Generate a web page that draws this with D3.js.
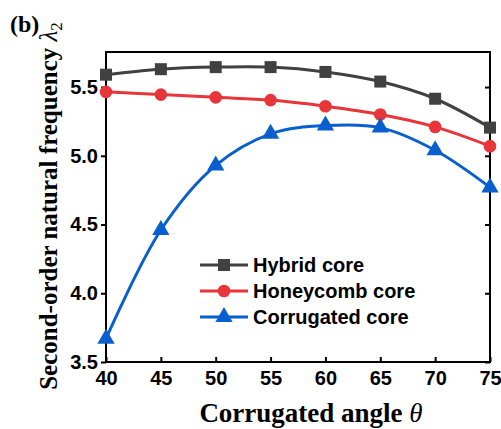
<!DOCTYPE html>
<html><head><meta charset="utf-8">
<script src="https://cdn.jsdelivr.net/npm/d3@7"></script>
<style>body{margin:0;background:#fff}svg{display:block}</style>
</head><body>
<script>
const angles = [40, 45, 50, 55, 60, 65, 70, 75];
const hybrid = [5.59, 5.63, 5.645, 5.645, 5.61, 5.54, 5.415, 5.205];
const honeycomb = [5.465, 5.445, 5.425, 5.405, 5.36, 5.30, 5.21, 5.07];
const corrugated = [3.67, 4.46, 4.93, 5.16, 5.22, 5.205, 5.04, 4.77];
const xTicks = [40, 45, 50, 55, 60, 65, 70, 75];
const yTicks = [3.5, 4.0, 4.5, 5.0, 5.5];
const seriesNames = ["Hybrid core", "Honeycomb core", "Corrugated core"];
const seriesColors = ["#414141", "#e8353a", "#0a5fd0"];
const seriesShapes = [d3.symbolSquare, d3.symbolCircle, d3.symbolTriangle];
const seriesData = [hybrid, honeycomb, corrugated];

const W = 501, H = 429;
const m = {l:106, t:52, r:490, b:362};
const svg = d3.select("body").append("svg").attr("width", W).attr("height", H);
const x = d3.scaleLinear().domain([40, 75]).range([m.l, m.r]);
const y = d3.scaleLinear().domain([3.5, 5.755]).range([m.b, m.t]);

const tickFont = "'Liberation Sans', Arial, sans-serif";
const serif = "'Liberation Serif', 'Times New Roman', serif";

// frame
svg.append("rect").attr("x", m.l).attr("y", m.t).attr("width", m.r - m.l).attr("height", m.b - m.t)
  .attr("fill", "none").attr("stroke", "#000").attr("stroke-width", 2);

// bottom axis (inward ticks)
const gx = svg.append("g").attr("transform", `translate(0,${m.b})`)
  .call(d3.axisBottom(x).tickValues(xTicks).tickSize(-5).tickPadding(6).tickFormat(d3.format("d")));
gx.select(".domain").remove();
gx.selectAll("line").attr("stroke", "#000").attr("stroke-width", 2);
gx.selectAll("text").attr("font-family", tickFont).attr("font-weight", "bold").attr("font-size", 20).attr("fill", "#000").attr("dy", "0.85em");

// left axis (outward ticks)
const gy = svg.append("g").attr("transform", `translate(${m.l},0)`)
  .call(d3.axisLeft(y).tickValues(yTicks).tickSize(5).tickPadding(3).tickFormat(d3.format(".1f")));
gy.select(".domain").remove();
gy.selectAll("line").attr("stroke", "#000").attr("stroke-width", 2);
gy.selectAll("text").attr("font-family", tickFont).attr("font-weight", "bold").attr("font-size", 20).attr("fill", "#000");

// right axis (inward ticks)
const gr = svg.append("g").attr("transform", `translate(${m.r},0)`)
  .call(d3.axisRight(y).tickValues(yTicks).tickSize(-5).tickFormat(""));
gr.select(".domain").remove();
gr.selectAll("line").attr("stroke", "#000").attr("stroke-width", 2);

// series
const line = d3.line().x((d, i) => x(angles[i])).y(d => y(d)).curve(d3.curveCatmullRom.alpha(0.5));
const symSizes = [144, 125, 130];
seriesData.forEach((vals, s) => {
  svg.append("path").datum(vals).attr("d", line).attr("fill", "none")
    .attr("stroke", seriesColors[s]).attr("stroke-width", 3);
  svg.append("g").selectAll("path").data(vals).join("path")
    .attr("d", d3.symbol().type(seriesShapes[s]).size(symSizes[s]))
    .attr("transform", (d, i) => `translate(${x(angles[i])},${y(d)})`)
    .attr("fill", seriesColors[s]);
});

// legend
const legY = [265, 291, 317];
seriesNames.forEach((n, s) => {
  const g = svg.append("g").attr("transform", `translate(200,${legY[s]})`);
  g.append("line").attr("x1", 0).attr("x2", 48).attr("stroke", seriesColors[s]).attr("stroke-width", 3);
  g.append("path").attr("d", d3.symbol().type(seriesShapes[s]).size(symSizes[s])).attr("transform", "translate(24,0)").attr("fill", seriesColors[s]);
  g.append("text").attr("x", 53).attr("y", 0).attr("dy", "0.35em").text(n)
    .attr("font-family", tickFont).attr("font-weight", "bold").attr("font-size", 20).attr("fill", "#000");
});

// x title
const xt = svg.append("text").attr("x", 311).attr("y", 422).attr("text-anchor", "middle")
  .attr("font-family", serif).attr("font-weight", "bold").attr("font-size", 27).attr("fill", "#000");
xt.append("tspan").text("Corrugated angle ");
xt.append("tspan").attr("font-style", "italic").attr("font-weight", "normal").text("θ");

// y title
const yt = svg.append("text").attr("transform", "translate(57,206) rotate(-90)").attr("text-anchor", "middle")
  .attr("font-family", serif).attr("font-weight", "bold").attr("font-size", 25).attr("fill", "#000");
yt.append("tspan").text("Second-order natural frequency ");
yt.append("tspan").attr("font-style", "italic").attr("font-weight", "normal").text("λ");
yt.append("tspan").attr("font-weight", "normal").attr("font-size", 17).attr("dy", 5).text("2");

// panel label
svg.append("text").attr("x", 10).attr("y", 32).text("(b)")
  .attr("font-family", serif).attr("font-weight", "bold").attr("font-size", 24).attr("fill", "#000");
</script>
</body></html>
